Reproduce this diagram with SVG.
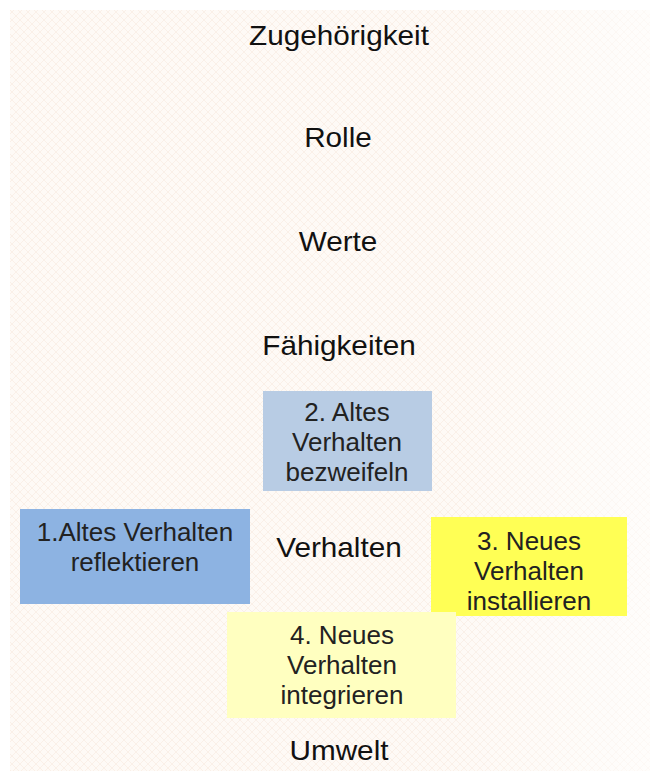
<svg xmlns="http://www.w3.org/2000/svg" width="650" height="771" viewBox="0 0 650 771">
<defs>
<pattern id="tex" width="8" height="8" patternUnits="userSpaceOnUse">
<rect width="8" height="8" fill="#fefaf6"/>
<path d="M0 8 L8 0 M0 0 L8 8" stroke="#faf0e8" stroke-width="1"/>
</pattern>
<linearGradient id="fade" x1="0" y1="0" x2="1" y2="0">
<stop offset="0" stop-color="#fff" stop-opacity="0"/>
<stop offset="0.7" stop-color="#fff" stop-opacity="0"/>
<stop offset="1" stop-color="#fff" stop-opacity="0.6"/>
</linearGradient>
<style>
.lbl{font-family:"Liberation Sans",Arial,sans-serif;font-size:27px;fill:#111;text-anchor:middle}
.bx{font-family:"Liberation Sans",Arial,sans-serif;font-size:26px;fill:#222;text-anchor:middle}
</style>
</defs>
<rect width="650" height="771" fill="#ffffff"/>
<rect x="10" y="10" width="640" height="761" fill="url(#tex)"/>
<rect x="10" y="10" width="640" height="761" fill="url(#fade)"/>
<g id="labels">
<text class="lbl" x="339" y="45" transform="translate(339 0) scale(1.1 1) translate(-339 0)">Zugehörigkeit</text>
<text class="lbl" x="338" y="147" transform="translate(338 0) scale(1.1 1) translate(-338 0)">Rolle</text>
<text class="lbl" x="338" y="251" transform="translate(338 0) scale(1.1 1) translate(-338 0)">Werte</text>
<text class="lbl" x="339" y="355" transform="translate(339 0) scale(1.1 1) translate(-339 0)">Fähigkeiten</text>
<text class="lbl" x="339" y="557" transform="translate(339 0) scale(1.1 1) translate(-339 0)">Verhalten</text>
<text class="lbl" x="339" y="760" transform="translate(339 0) scale(1.1 1) translate(-339 0)">Umwelt</text>
</g>
<g id="node2">
<rect x="263" y="391" width="169" height="100" fill="#b8cce4"/>
<text class="bx" x="347" y="421">2. Altes</text>
<text class="bx" x="347" y="451">Verhalten</text>
<text class="bx" x="347" y="481">bezweifeln</text>
</g>
<g id="node1">
<rect x="20" y="509" width="230" height="95" fill="#8db3e2"/>
<text class="bx" x="135" y="541">1.Altes Verhalten</text>
<text class="bx" x="135" y="571">reflektieren</text>
</g>
<g id="node3">
<rect x="431" y="517" width="196" height="99" fill="#ffff55"/>
<text class="bx" x="529" y="550">3. Neues</text>
<text class="bx" x="529" y="580">Verhalten</text>
<text class="bx" x="529" y="610">installieren</text>
</g>
<g id="node4">
<rect x="227" y="612" width="229" height="106" fill="#ffffc0"/>
<text class="bx" x="342" y="644">4. Neues</text>
<text class="bx" x="342" y="674">Verhalten</text>
<text class="bx" x="342" y="704">integrieren</text>
</g>
<g id="connectors"></g>
</svg>
